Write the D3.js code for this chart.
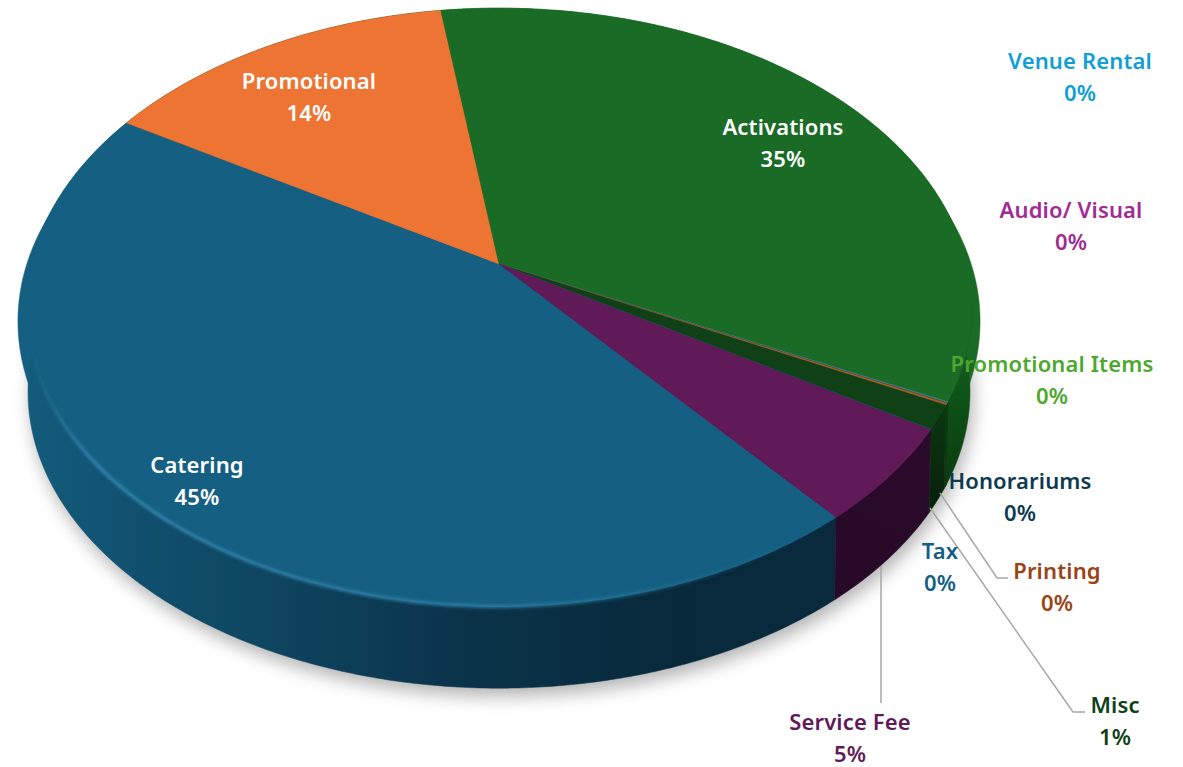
<!DOCTYPE html>
<html>
<head>
<meta charset="utf-8">
<script src="https://cdn.jsdelivr.net/npm/d3@7"></script>
<style>
html, body { margin: 0; padding: 0; background: #fff; overflow: hidden; }
text { font-family: "Noto Sans", sans-serif; font-weight: 600; font-size: 22px; letter-spacing: 0.15px; text-anchor: middle; }
</style>
</head>
<body>
<div id="chart"></div>
<script>
// values, clockwise from the Catering slice
var categories = ["Catering", "Promotional", "Activations", "Venue Rental", "Audio/ Visual", "Promotional Items", "Honorariums", "Printing", "Misc", "Tax", "Service Fee"];
var values = [44.8, 14.1, 34.6, 0.02, 0.02, 0.02, 0.02, 0.1, 1.3, 0.02, 5.2];

var faceColors = ["#156082", "#ed7433", "#1a6b25", "#0f9ed5", "#a02b93", "#4ea72e", "#0d3a4f", "#a85a28", "#0f4016", "#156082", "#601a58"];
var textColors = ["#ffffff", "#ffffff", "#ffffff", "#0f9ed5", "#a02b93", "#4ea72e", "#0d3a4f", "#9a4315", "#0f4016", "#156082", "#601a58"];

// label centres, same order as categories
var labelX = [197, 309, 783, 1080, 1071, 1052, 1020, 1057, 1115, 940, 850];
var labelY = [465, 81, 127, 61, 210, 364, 481, 571, 705, 551, 722];

var leaders = [
    [[881, 566], [881, 703]],
    [[930, 508], [1073, 712], [1085, 712]],
    [[940, 493], [997, 578], [1008, 578]]
];

var width = 1183;
var height = 767;
var tilt = 0.145;
var startAngle = 140.2 * Math.PI / 180;

// top disc, the slightly wider shoulder under it, and the bottom disc
var topX = d3.scaleLinear().domain([-1, 1]).range([31, 967]);
var topY = d3.scaleLinear().domain([-1, 1]).range([-29, 557]);
var midX = d3.scaleLinear().domain([-1, 1]).range([23, 975]);
var midY = d3.scaleLinear().domain([-1, 1]).range([-15, 571]);
var botX = d3.scaleLinear().domain([-1, 1]).range([33, 965]);
var botY = d3.scaleLinear().domain([-1, 1]).range([59, 639]);

function project(a, sx, sy) {
    var u = Math.sin(a);
    var v = -Math.cos(a);
    var w = 1 - tilt * v;
    return [sx(u / w), sy(v / w)];
}

function arcPoints(a0, a1, sx, sy) {
    var n = Math.max(2, Math.ceil((a1 - a0) / 0.01));
    return d3.range(n + 1).map(function(i) {
        return project(a0 + (a1 - a0) * i / n, sx, sy);
    });
}

var pie = d3.pie()
    .sort(null)
    .startAngle(startAngle)
    .endAngle(startAngle + 2 * Math.PI);
var slices = pie(values);
var line = d3.line();

var svg = d3.select("#chart")
    .append("svg")
    .attr("width", width)
    .attr("height", height);

var defs = svg.append("defs");
defs.append("filter").attr("id", "soft")
    .attr("x", "-10%").attr("y", "-10%").attr("width", "120%").attr("height", "120%")
    .append("feGaussianBlur").attr("stdDeviation", 9);
defs.append("filter").attr("id", "rim")
    .attr("x", "-10%").attr("y", "-10%").attr("width", "120%").attr("height", "120%")
    .append("feGaussianBlur").attr("stdDeviation", 1.8);

// wall shading
function wallGradient(id, x1, y1, x2, y2, stops) {
    var g = defs.append("linearGradient").attr("id", id)
        .attr("gradientUnits", "userSpaceOnUse")
        .attr("x1", x1).attr("y1", y1).attr("x2", x2).attr("y2", y2);
    stops.forEach(function(s) {
        g.append("stop").attr("offset", s[0]).attr("stop-color", s[1])
            .attr("stop-opacity", s[2] === undefined ? 1 : s[2]);
    });
}
wallGradient("wall0", 25, 0, 835, 0, [[0, "#145b7b"], [0.1, "#115372"], [0.3, "#0e4560"], [0.55, "#0a3349"], [0.8, "#08293b"], [1, "#082a3c"]]);
wallGradient("wall2", 978, 300, 940, 480, [[0, "#1a6b25"], [0.5, "#0f5318"], [1, "#0a3d10"]]);
wallGradient("wall8", 950, 400, 930, 510, [[0, "#0b3a10"], [1, "#071f0b"]]);
wallGradient("wall10", 932, 430, 835, 600, [[0, "#2b0b2c"], [1, "#260926"]]);
wallGradient("bevel", 30, 0, 800, 0, [[0, "#3a8fba", 0], [0.08, "#3a8fba", 0.85], [0.6, "#3a8fba", 0.7], [1, "#3a8fba", 0]]);

var wallFill = {0: "url(#wall0)", 2: "url(#wall2)", 8: "url(#wall8)", 10: "url(#wall10)"};

function wallColor(d, i) {
    return wallFill[i] || "#0a3d10";
}

// shadow
svg.append("path")
    .attr("d", line(arcPoints(0, 2 * Math.PI, botX, botY)) + "Z")
    .attr("transform", "translate(3,8)")
    .attr("fill", "#000")
    .attr("opacity", 0.3)
    .attr("filter", "url(#soft)");

// shoulder
var mid = [midX(0), midY(0)];
svg.append("g").selectAll("path")
    .data(slices)
    .enter()
    .append("path")
    .attr("d", function(d) {
        return line([mid].concat(arcPoints(d.startAngle, d.endAngle, midX, midY))) + "Z";
    })
    .attr("fill", function(d, i) { return faceColors[i]; })
    .attr("stroke", function(d, i) { return faceColors[i]; })
    .attr("stroke-width", 0.5);

// walls
var gWall = svg.append("g");
gWall.selectAll("path")
    .data(slices)
    .enter()
    .append("path")
    .attr("d", function(d) {
        var t = arcPoints(d.startAngle, d.endAngle, topX, topY);
        var b = arcPoints(d.startAngle, d.endAngle, botX, botY).reverse();
        return line(t.concat(b)) + "Z";
    })
    .attr("fill", wallColor)
    .attr("stroke", wallColor)
    .attr("stroke-width", 0.5);

// top faces
var apex = [topX(0), topY(0)];
var gFace = svg.append("g");
gFace.selectAll("path")
    .data(slices)
    .enter()
    .append("path")
    .attr("d", function(d) {
        return line([apex].concat(arcPoints(d.startAngle, d.endAngle, topX, topY))) + "Z";
    })
    .attr("fill", function(d, i) { return faceColors[i]; })
    .attr("stroke", function(d, i) { return faceColors[i]; })
    .attr("stroke-width", 0.4);

// lighter bevel along the catering rim, fading at both ends
svg.append("path")
    .attr("d", line(arcPoints(slices[0].startAngle + 0.05, slices[0].endAngle - 0.6, topX, topY)))
    .attr("fill", "none")
    .attr("stroke", "url(#bevel)")
    .attr("stroke-width", 3)
    .attr("filter", "url(#rim)");

// leader lines
svg.append("g").selectAll("path")
    .data(leaders)
    .enter()
    .append("path")
    .attr("d", function(d) { return line(d); })
    .attr("fill", "none")
    .attr("stroke", "#a6a6a6")
    .attr("stroke-width", 1.5);

// labels
var pct = d3.format(".0%");
var total = d3.sum(values);
var gText = svg.append("g");
categories.forEach(function(name, i) {
    gText.append("text")
        .attr("x", labelX[i])
        .attr("y", labelY[i] + 8)
        .attr("fill", textColors[i])
        .text(name);
    gText.append("text")
        .attr("x", labelX[i])
        .attr("y", labelY[i] + 40)
        .attr("fill", textColors[i])
        .text(pct(values[i] / total));
});
</script>
</body>
</html>
